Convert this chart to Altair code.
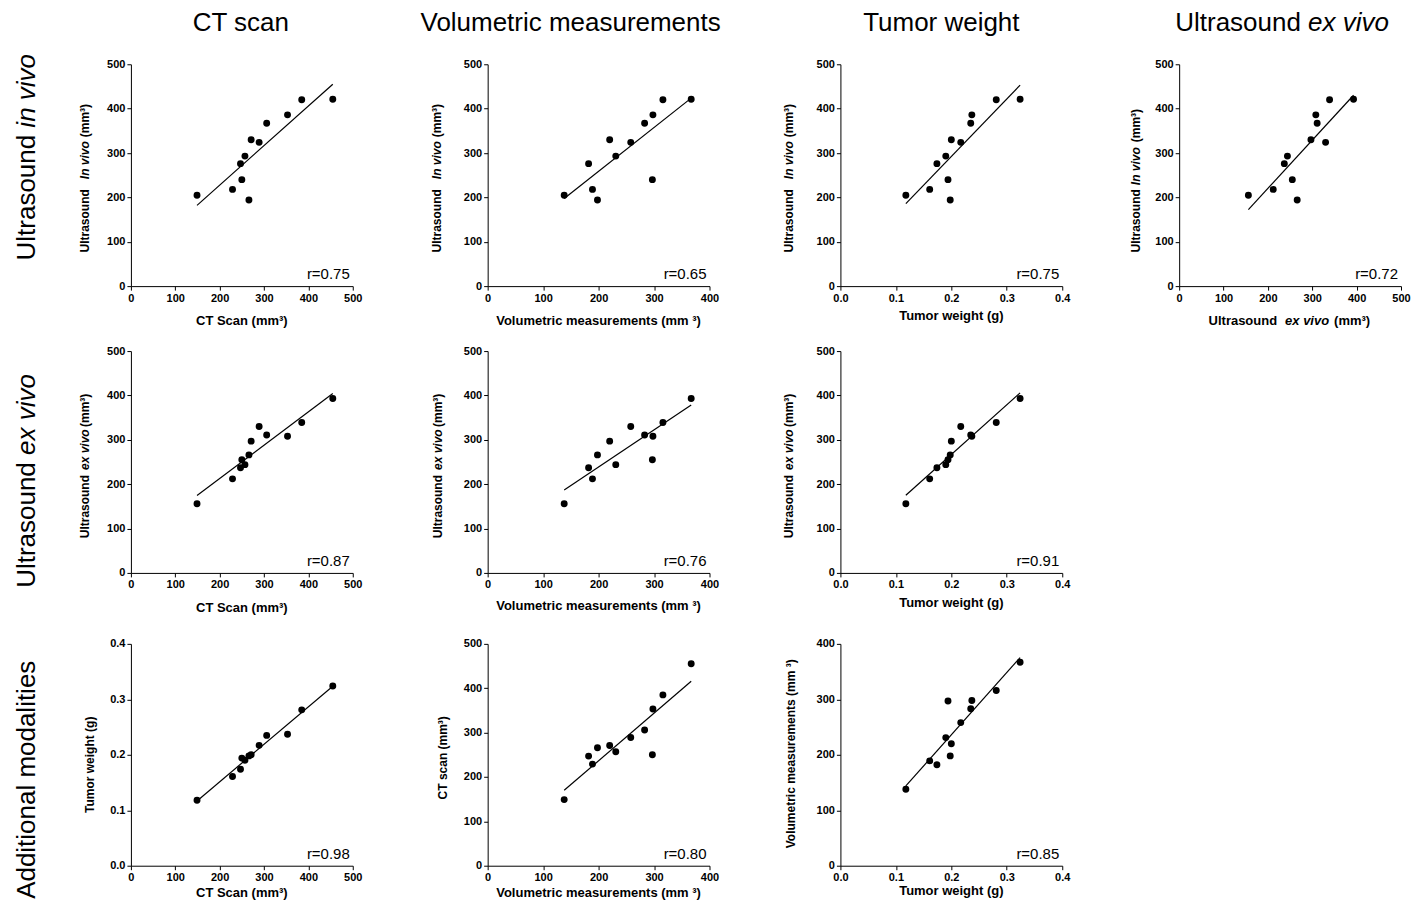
import altair as alt
import pandas as pd

# ---- data (12 tumours) ----
ct_scan = [149, 229, 247, 257, 250, 266, 271, 289, 306, 353, 385, 455]
volumetric = [138, 189, 182, 231, 297, 198, 220, 258, 283, 298, 316, 367]
tumor_weight = [0.118, 0.161, 0.174, 0.190, 0.194, 0.198, 0.200, 0.217, 0.235, 0.237, 0.281, 0.324]
us_in_vivo = [205, 218, 276, 293, 240, 194, 330, 324, 367, 386, 420, 421]
us_ex_vivo = [156, 212, 237, 244, 255, 266, 297, 330, 311, 308, 339, 393]

r_labels = ["r=0.75", "r=0.65", "r=0.75", "r=0.72",
            "r=0.87", "r=0.76", "r=0.91",
            "r=0.98", "r=0.80", "r=0.85"]

column_titles = ["CT scan", "Volumetric measurements", "Tumor weight", "Ultrasound"]
row_labels = ["Ultrasound", "Ultrasound", "Additional modalities"]

ticks_500 = [0, 100, 200, 300, 400, 500]
ticks_400 = [0, 100, 200, 300, 400]
ticks_w = [0.0, 0.1, 0.2, 0.3, 0.4]

W = H = 222
BIG = "'Liberation Sans', Arial, sans-serif"
SMALL = "'Liberation Sans', Arial, sans-serif"
BS = 26  # big label font size

df = pd.DataFrame({"ct": ct_scan, "vol": volumetric, "tw": tumor_weight,
                   "us_iv": us_in_vivo, "us_ev": us_ex_vivo})
one = pd.DataFrame({"k": [0]})

scales = {
    "ct": ([0, 500], ticks_500, "d"),
    "vol": ([0, 400], ticks_400, "d"),
    "tw": ([0, 0.4], ticks_w, ".1f"),
    "us_iv": ([0, 500], ticks_500, "d"),
    "us_ev": ([0, 500], ticks_500, "d"),
}


def axis(field):
    dom, vals, fmt = scales[field]
    return alt.Axis(values=vals, format=fmt, title=None, grid=False,
                    labelFlush=False, labelOverlap=False)


def text(t, x, y, size, weight="normal", style="normal", align="center",
         angle=0, font=SMALL):
    kw = dict(text=t, fontSize=size, fontWeight=weight, fontStyle=style,
              align=align, baseline="middle", font=font, color="black")
    if angle:
        kw["angle"] = angle
    return alt.Chart(one).mark_text(**kw).encode(x=alt.value(x), y=alt.value(y))


def box(L, R, T, B):
    return alt.Chart(one).mark_rule(color="white", strokeOpacity=0).encode(
        x=alt.value(-L), x2=alt.value(W + R), y=alt.value(-T), y2=alt.value(H + B))


def panel(xf, yf, r, ext, extras):
    L, R, T, B = ext
    base = alt.Chart(df).encode(
        x=alt.X(f"{xf}:Q", scale=alt.Scale(domain=scales[xf][0], nice=False), axis=axis(xf)),
        y=alt.Y(f"{yf}:Q", scale=alt.Scale(domain=scales[yf][0], nice=False), axis=axis(yf)),
    )
    pts = base.mark_circle(size=48, color="black", opacity=1)
    line = base.transform_regression(xf, yf).mark_line(color="black", strokeWidth=1.2)
    rt = text(r, W - 3, H - 12, 15, align="right")
    return alt.layer(box(L, R, T, B), line, pts, rt, *extras).properties(width=W, height=H)


def ytitle_split(x, pieces):
    out = []
    for t, style, align, y in pieces:
        out.append(text(t, x, y, 12, weight="bold", style=style, align=align, angle=270))
    return out


def ytitle(t, x, y):
    return [text(t, x, y, 12, weight="bold", angle=270)]


def xtitle(t, y, x=W / 2):
    return [text(t, x, H + y, 13, weight="bold")]


colL = [123, 100, 100, 100]
colR = [35, 31, 17, 15]
rowT = [56, 20, 20]
rowB = [44.7, 51, 32]


def ext(r, c):
    return (colL[c], colR[c], rowT[r], rowB[r])


iv_pieces = [("Ultrasound", "normal", "right", 125), ("In vivo", "italic", "left", 115),
             ("(mm³)", "normal", "left", 73)]
iv_pieces4 = [("Ultrasound", "normal", "right", 125), ("In vivo", "italic", "left", 121),
              ("(mm³)", "normal", "left", 78)]
ev_pieces = [("Ultrasound", "normal", "right", 124), ("ex vivo", "italic", "left", 119),
             ("(mm³)", "normal", "left", 76)]

# row labels (rotated, bottom-to-top)
rl1 = [text(row_labels[0], -104, 70.6, BS, align="right", angle=270, font=BIG),
       text("in vivo", -104, 63.4, BS, style="italic", align="left", angle=270, font=BIG)]
rl2 = [text(row_labels[1], -104, 111.2, BS, align="right", angle=270, font=BIG),
       text("ex vivo", -104, 104, BS, style="italic", align="left", angle=270, font=BIG)]
rl3 = [text(row_labels[2], -104, 136, BS, angle=270, font=BIG)]

ct1 = [text(column_titles[0], 110, -41, BS, font=BIG)]
ct2 = [text(column_titles[1], 83, -41, BS, font=BIG)]
ct3 = [text(column_titles[2], 101, -41, BS, font=BIG)]
ct4 = [text(column_titles[3], 121.8, -41, BS, align="right", font=BIG),
       text("ex vivo", 129, -41, BS, style="italic", align="left", font=BIG)]

xt_ev = [text("Ultrasound", 98, H + 35, 13, weight="bold", align="right"),
         text("ex vivo", 106, H + 35, 13, weight="bold", style="italic", align="left"),
         text("(mm³)", 155, H + 35, 13, weight="bold", align="left")]

cells = [
    panel("ct", "us_iv", r_labels[0], ext(0, 0),
          rl1 + ct1 + ytitle_split(-46, iv_pieces) + xtitle("CT Scan (mm³)", 35)),
    panel("vol", "us_iv", r_labels[1], ext(0, 1),
          ct2 + ytitle_split(-51, iv_pieces) + xtitle("Volumetric measurements (mm ³)", 35)),
    panel("tw", "us_iv", r_labels[2], ext(0, 2),
          ct3 + ytitle_split(-51, iv_pieces) + xtitle("Tumor weight (g)", 30)),
    panel("us_ev", "us_iv", r_labels[3], ext(0, 3),
          ct4 + ytitle_split(-43, iv_pieces4) + xt_ev),
    panel("ct", "us_ev", r_labels[4], ext(1, 0),
          rl2 + ytitle_split(-46, ev_pieces) + xtitle("CT Scan (mm³)", 35)),
    panel("vol", "us_ev", r_labels[5], ext(1, 1),
          ytitle_split(-50, ev_pieces) + xtitle("Volumetric measurements (mm ³)", 33)),
    panel("tw", "us_ev", r_labels[6], ext(1, 2),
          ytitle_split(-51, ev_pieces) + xtitle("Tumor weight (g)", 30)),
    alt.layer(box(*ext(1, 3))).properties(width=W, height=H),
    panel("ct", "tw", r_labels[7], ext(2, 0),
          rl3 + ytitle("Tumor weight (g)", -41, 121) + xtitle("CT Scan (mm³)", 27)),
    panel("vol", "ct", r_labels[8], ext(2, 1),
          ytitle("CT scan (mm³)", -45, 114) + xtitle("Volumetric measurements (mm ³)", 27)),
    panel("tw", "vol", r_labels[9], ext(2, 2),
          ytitle("Volumetric measurements (mm ³)", -49, 110) + xtitle("Tumor weight (g)", 25)),
]

chart = alt.concat(*cells, columns=4, spacing=0, align="each", bounds="full").properties(
    padding={"left": 0, "top": 0, "right": 0, "bottom": 0}
).configure_view(stroke=None).configure_axis(
    labelFont=SMALL, labelFontSize=11, labelFontWeight="bold", labelColor="black",
    domainColor="black", tickColor="black", tickSize=4, domainWidth=1, tickWidth=1,
    labelPadding=2,
)

chart.save("out.html", embed_options={"renderer": "svg", "actions": False})
